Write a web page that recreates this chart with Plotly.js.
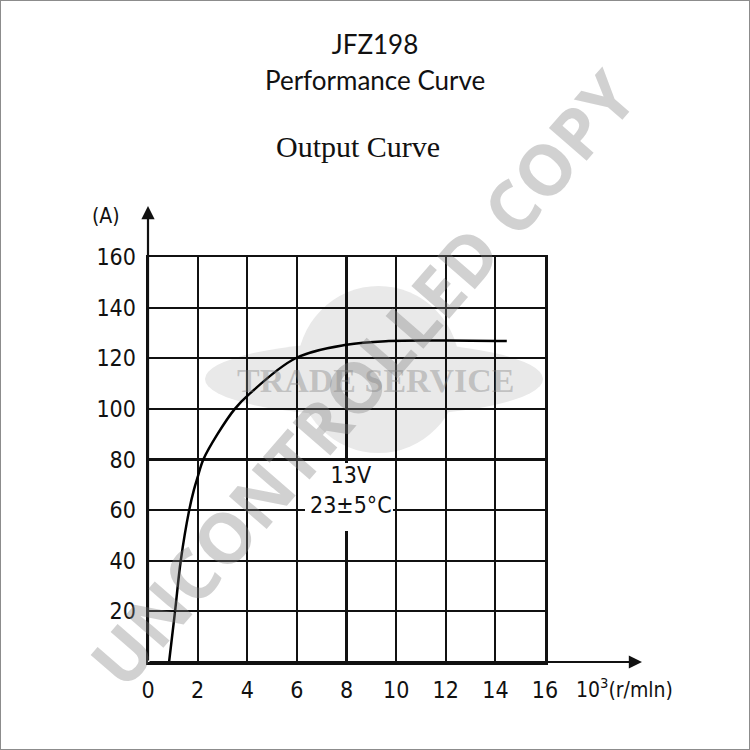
<!DOCTYPE html>
<html>
<head>
<meta charset="utf-8">
<script src="https://cdn.plot.ly/plotly-3.0.1.min.js"></script>
<style>
  html, body { margin: 0; padding: 0; background: #fff; }
  #wrap { position: relative; width: 750px; height: 750px; }
  #chart { width: 750px; height: 750px; }
  #frame { position: absolute; left: 0; top: 0; width: 750px; height: 750px; box-sizing: border-box; border: 1px solid #8c8c8c; pointer-events: none; }
</style>
</head>
<body>
<div id="wrap"><div id="chart"></div><div id="frame"></div></div>
<script>
// Output curve (speed in 10^3 r/min, current in A)
const speed   = [0.85, 1.09, 1.32, 1.66, 1.85, 2.0, 2.23, 2.8, 3.5, 4.1, 5.95, 8.0, 9.7, 12.0, 14.46];
const current = [0, 20, 40, 60, 68, 73, 80, 90, 100, 106, 120, 125.3, 126.8, 127, 126.8];

const xTicks = [0, 2, 4, 6, 8, 10, 12, 14, 16];
const yTicks = [20, 40, 60, 80, 100, 120, 140, 160];

const chartTitle = 'JFZ198';
const chartSubtitle = 'Performance Curve';
const plotTitle = 'Output Curve';
const yUnit = '(A)';
const xUnit = '10<sup>3</sup>(r/mln)';
const conditionText = '13V<br>23±5°C';
const watermark = 'UNCONTROLLED COPY';
const watermark2 = 'TRADE SERVICE';

const narrow = '"DejaVu Sans Condensed", "Liberation Sans Narrow", sans-serif';

const trace = {
  x: speed, y: current, type: 'scatter', mode: 'lines',
  line: {color: '#000', width: 2.5, shape: 'spline', smoothing: 1},
  hoverinfo: 'skip', showlegend: false
};

// plot area in pixels: x 148..545, y 257..662
const L = 148, R = 545, T = 257, B = 662;
const px = v => (v - L) / (R - L);
const py = v => (B - v) / (B - T);

function note(text, x, y, font, extra) {
  return Object.assign({text: text, xref: 'paper', yref: 'paper', x: px(x), y: py(y),
    xanchor: 'center', yanchor: 'middle', showarrow: false, font: font}, extra || {});
}

const layout = {
  width: 750, height: 750,
  margin: {l: L, r: 750 - R, t: T, b: 750 - B},
  paper_bgcolor: '#fff', plot_bgcolor: 'rgba(0,0,0,0)',
  showlegend: false,
  title: {text: chartTitle, x: 0.5, xref: 'container', xanchor: 'center', y: 1 - 45/750, yref: 'container', yanchor: 'middle',
          font: {family: 'Lato, "Open Sans", sans-serif', size: 26, color: '#111'}},
  xaxis: {
    range: [0, 16], tickvals: xTicks, ticktext: xTicks.map(String),
    showgrid: true, gridcolor: '#111', gridwidth: 2.2,
    showline: true, linecolor: '#111', linewidth: 2.5, mirror: true,
    zeroline: false, ticks: '', ticklabelstandoff: 6,
    tickfont: {family: narrow, size: 23, color: '#111'}, fixedrange: true
  },
  yaxis: {
    range: [0, 160], tickvals: yTicks, ticktext: yTicks.map(String),
    showgrid: true, gridcolor: '#111', gridwidth: 2.2,
    showline: true, linecolor: '#111', linewidth: 2.5, mirror: true,
    zeroline: false, ticks: '', ticklabelstandoff: 5,
    tickfont: {family: narrow, size: 23, color: '#111'}, fixedrange: true
  },
  shapes: [
    {type: 'circle', xref: 'paper', yref: 'paper', layer: 'below',
     x0: px(205), x1: px(543), y0: py(416), y1: py(342), fillcolor: '#e9e9e9', line: {width: 0}},
    {type: 'circle', xref: 'paper', yref: 'paper', layer: 'below',
     x0: px(297), x1: px(460), y0: py(453), y1: py(286), fillcolor: '#e9e9e9', line: {width: 0}},
    // white gap in the grid behind the test-condition text
    {type: 'rect', xref: 'paper', yref: 'paper', layer: 'above',
     x0: px(305), x1: px(393), y0: py(531), y1: py(463), fillcolor: '#fff', line: {width: 0}}
  ],
  annotations: [
    note(chartSubtitle, 375, 80, {family: 'Lato, "Open Sans", sans-serif', size: 26, color: '#111'}),
    note(plotTitle, 358, 147, {family: '"Liberation Serif", "DejaVu Serif", serif', size: 30, color: '#111'}),
    note(yUnit, 106, 216, {family: narrow, size: 21, color: '#111'}),
    note(xUnit, 624, 688, {family: narrow, size: 21, color: '#111'}),
    // axis arrows
    {xref: 'paper', yref: 'paper', x: 0, y: py(206), ax: 0, ay: B - 206, text: '', showarrow: true,
     arrowhead: 2, arrowsize: 1.2, arrowwidth: 2.2, arrowcolor: '#111'},
    {xref: 'paper', yref: 'paper', x: px(642), y: 0, ax: -(642 - L), ay: 0, text: '', showarrow: true,
     arrowhead: 2, arrowsize: 1.2, arrowwidth: 2.2, arrowcolor: '#111'},
    // test conditions
    {text: conditionText, x: 8.18, y: 67.8, xref: 'x', yref: 'y', xanchor: 'center', yanchor: 'middle', showarrow: false,
     align: 'center', font: {family: narrow, size: 23, color: '#111'}},
    // watermarks
    note('<b>' + watermark2 + '</b>', 375, 380, {family: '"Liberation Serif", "DejaVu Serif", serif', size: 34, color: 'rgba(128,128,128,0.38)'}),
    note('<b>' + watermark + '</b>', 362, 378, {family: '"Open Sans", "DejaVu Sans", sans-serif', size: 70, color: 'rgba(128,128,128,0.36)'},
         {textangle: -49})
  ]
};

Plotly.newPlot('chart', [trace], layout, {displayModeBar: false, staticPlot: true});
</script>
</body>
</html>
